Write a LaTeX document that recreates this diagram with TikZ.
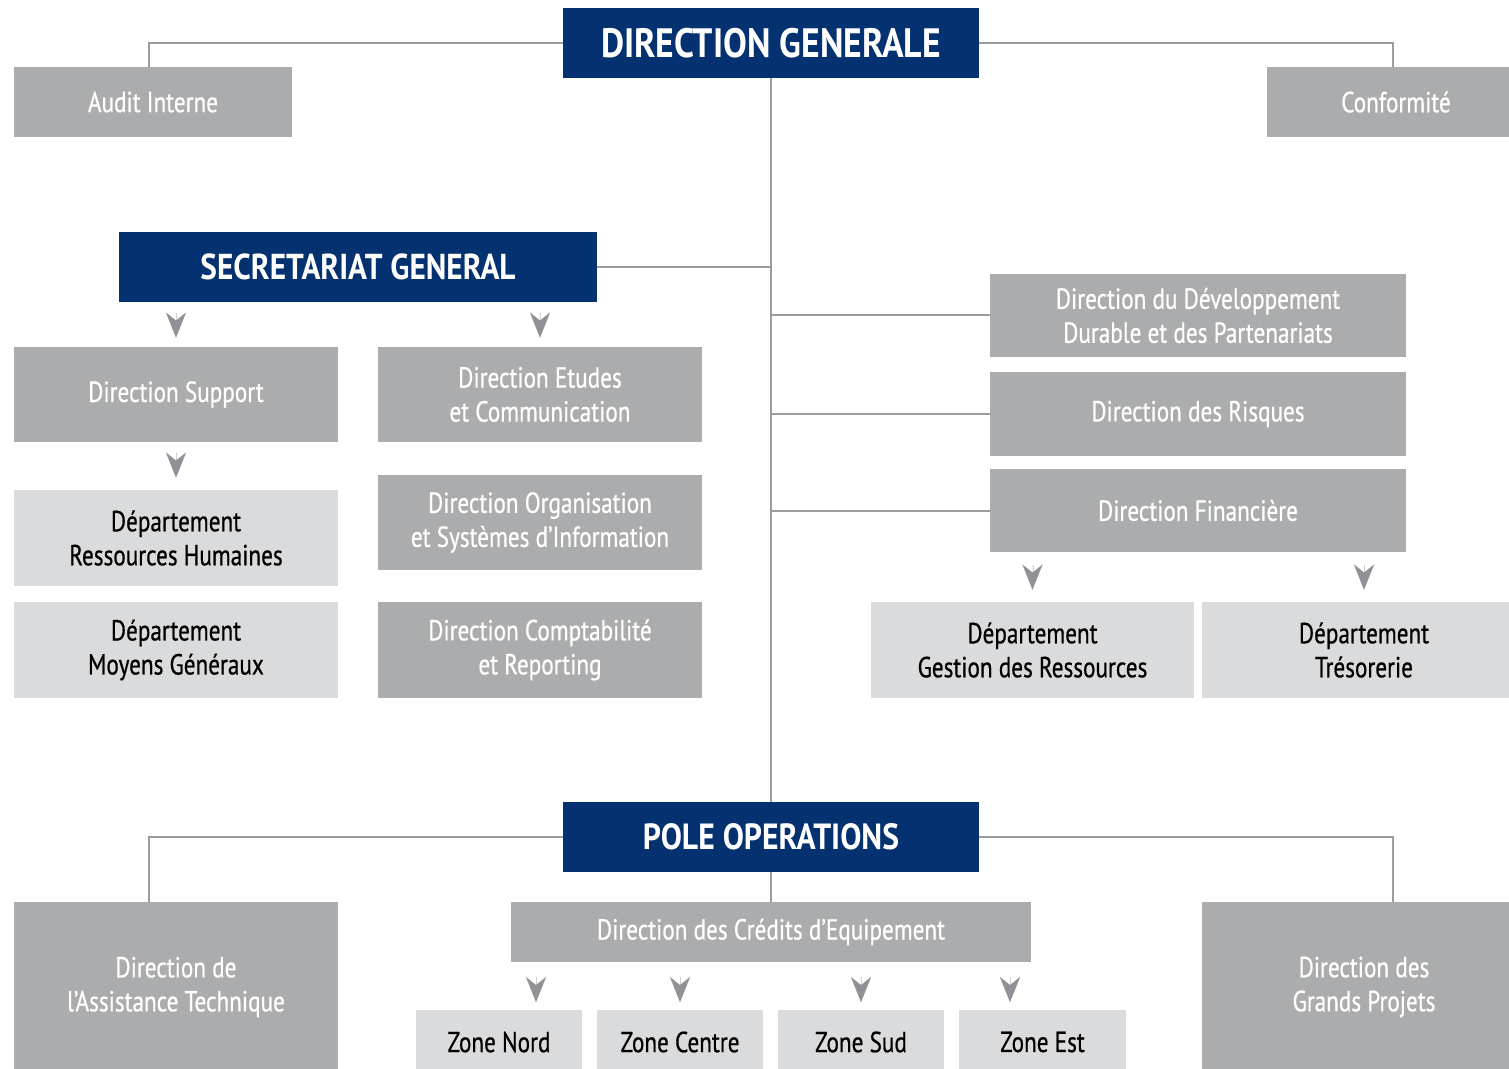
\documentclass[tikz,border=0pt]{standalone}
\usepackage{fontspec}
\setmainfont[FakeStretch=0.8]{PT Sans}
\newfontfamily\bodyfont[FakeStretch=0.8, FakeBold=0.6]{PT Sans}
\newfontfamily\titlefont[FakeStretch=0.87]{PT Sans Bold}
\usetikzlibrary{arrows.meta,calc}
\definecolor{navy}{HTML}{043271}
\definecolor{boxgray}{HTML}{ABACAE}
\definecolor{lightgray}{HTML}{DADBDD}
\definecolor{linegray}{HTML}{9C9C9E}
\definecolor{arrgray}{HTML}{909196}
\tikzset{
  title/.style={rectangle, fill=navy, text=white, inner sep=0pt, minimum width=208pt, minimum height=35pt, font=\titlefont\fontsize{20.5}{24}\selectfont},
  gbox/.style={rectangle, fill=boxgray, text=white, inner sep=0pt, align=center, font=\bodyfont\fontsize{14.5}{17}\selectfont},
  lbox/.style={rectangle, fill=lightgray, text=black, inner sep=0pt, align=center, font=\bodyfont\fontsize{14.5}{17}\selectfont},
  link/.style={draw=linegray, line width=1pt},
  arrowmark/.style={draw=arrgray, fill=arrgray, line width=0.01pt, -{Stealth[length=12.5pt, width=10pt, inset=4pt]}},
}
\begin{document}
\begin{tikzpicture}[x=0.5pt, y=-0.5pt]
\useasboundingbox (0,0) rectangle (1509,1069);
\fill[white] (0,0) rectangle (1509,1069);
% top
\node[title] (DG) at (771,43) {DIRECTION GENERALE};
\node[gbox, minimum width=139pt, minimum height=35pt] (AI) at (153,102) {Audit Interne};
\node[gbox, minimum width=129pt, minimum height=35pt] (CF) at (1396,102) {Conformité};
% secretariat
\node[title, minimum width=239pt, font=\titlefont\fontsize{18}{21}\selectfont] (SG) at (358,267) {SECRETARIAT GENERAL};
\node[gbox, minimum width=162pt, minimum height=47.5pt] (DS) at (176,394.5) {Direction Support};
\node[gbox, minimum width=162pt, minimum height=47.5pt] (DEC) at (540,394.5) {Direction Etudes\\et Communication};
\node[lbox, minimum width=162pt, minimum height=48pt] (DRH) at (176,538) {Département\\Ressources Humaines};
\node[lbox, minimum width=162pt, minimum height=48pt] (DMG) at (176,650) {Département\\Moyens Généraux};
\node[gbox, minimum width=162pt, minimum height=47.5pt] (DOSI) at (540,522.5) {Direction Organisation\\et Systèmes d’Information};
\node[gbox, minimum width=162pt, minimum height=48pt] (DCR) at (540,650) {Direction Comptabilité\\et Reporting};
% right column
\node[gbox, minimum width=208pt, minimum height=41.5pt] (DDD) at (1198,315.5) {Direction du Développement\\Durable et des Partenariats};
\node[gbox, minimum width=208pt, minimum height=42pt] (DR) at (1198,414) {Direction des Risques};
\node[gbox, minimum width=208pt, minimum height=41.5pt] (DF) at (1198,510.5) {Direction Financière};
\node[lbox, minimum width=161.5pt, minimum height=48pt] (DGR) at (1032.5,650) {Département\\Gestion des Ressources};
\node[lbox, minimum width=162pt, minimum height=48pt] (DT) at (1364,650) {Département\\Trésorerie};
% pole operations
\node[title, font=\titlefont\fontsize{18.2}{21}\selectfont] (PO) at (771,837) {POLE OPERATIONS};
\node[gbox, minimum width=162pt, minimum height=85pt] (DAT) at (176,987) {Direction de\\l’Assistance Technique};
\node[gbox, minimum width=162pt, minimum height=85pt] (DGP) at (1364,987) {Direction des\\Grands Projets};
\node[gbox, minimum width=260pt, minimum height=30pt] (DCE) at (771,932) {Direction des Crédits d’Equipement};
\node[lbox, minimum width=83pt, minimum height=32.5pt] (ZN) at (499,1042) {Zone Nord};
\node[lbox, minimum width=83pt, minimum height=32.5pt] (ZC) at (680,1042) {Zone Centre};
\node[lbox, minimum width=83pt, minimum height=32.5pt] (ZS) at (861,1042) {Zone Sud};
\node[lbox, minimum width=83.5pt, minimum height=32.5pt] (ZE) at (1042.5,1042) {Zone Est};
% connectors
\draw[link] (DG.west) -| (AI.north -| 149,0);
\draw[link] (DG.east) -| (CF.north -| 1393,0);
\draw[link] (DG.south) -- (PO.north);
\draw[link] (SG.east) -- (SG.east -| DG.south);
\draw[link] (DDD.west -| DG.south) -- (DDD.west);
\draw[link] (DR.west -| DG.south) -- (DR.west);
\draw[link] (DF.west -| DG.south) -- (DF.west);
\draw[link] (PO.west) -| (DAT.north -| 149,0);
\draw[link] (PO.east) -| (DGP.north -| 1393,0);
\draw[link] (PO.south) -- (DCE.north);
% arrow marks
\draw[arrowmark] ($(DS.north)+(0,17pt)$) -- ($(DS.north)+(0,4.5pt)$);
\draw[arrowmark] ($(DEC.north)+(0,17pt)$) -- ($(DEC.north)+(0,4.5pt)$);
\draw[arrowmark] ($(DRH.north)+(0,18.5pt)$) -- ($(DRH.north)+(0,6pt)$);
\draw[arrowmark] ($(DGR.north)+(0,18.5pt)$) -- ($(DGR.north)+(0,6pt)$);
\draw[arrowmark] ($(DT.north)+(0,18.5pt)$) -- ($(DT.north)+(0,6pt)$);
\draw[arrowmark] ($(ZN.north -| 536,0)+(0,16pt)$) -- ($(ZN.north -| 536,0)+(0,3.5pt)$);
\draw[arrowmark] ($(ZC.north)+(0,16pt)$) -- ($(ZC.north)+(0,3.5pt)$);
\draw[arrowmark] ($(ZS.north)+(0,16pt)$) -- ($(ZS.north)+(0,3.5pt)$);
\draw[arrowmark] ($(ZE.north -| 1010,0)+(0,16pt)$) -- ($(ZE.north -| 1010,0)+(0,3.5pt)$);
\end{tikzpicture}
\end{document}
